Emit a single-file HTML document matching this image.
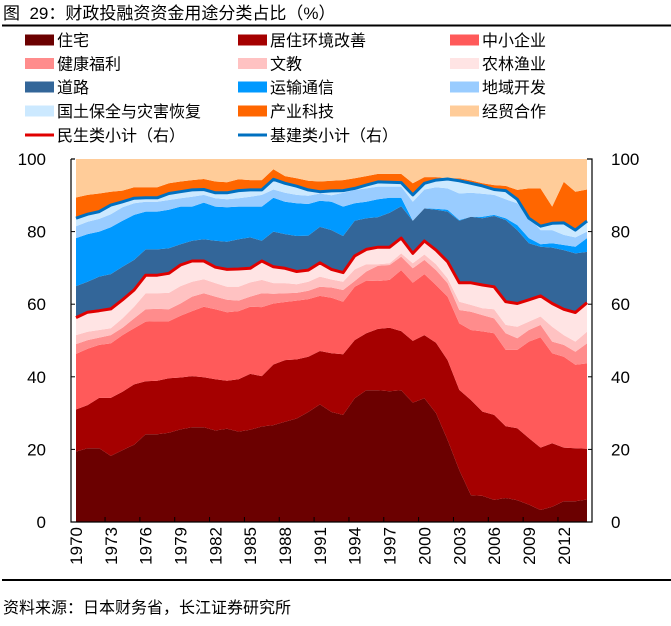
<!DOCTYPE html>
<html><head><meta charset="utf-8">
<style>
html,body{margin:0;padding:0;background:#fff;}
body{width:671px;height:621px;overflow:hidden;position:relative;font-family:"Liberation Sans","Noto Sans CJK SC",sans-serif;}
svg text{font-family:"Liberation Sans","Noto Sans CJK SC",sans-serif;}
</style></head>
<body>
<svg id="chart" width="671" height="621" viewBox="0 0 671 621" xmlns="http://www.w3.org/2000/svg">
<text x="3" y="19" font-size="17" fill="#000" xml:space="preserve">图  29：财政投融资资金用途分类占比（%）</text>
<rect x="2" y="24.5" width="669" height="2" fill="#000"/>
<g id="legend"></g>
<g id="plot"></g>
<g id="axes"></g>
<rect x="2" y="579" width="669" height="2" fill="#000"/>
<text x="3" y="613" font-size="16" fill="#000">资料来源：日本财务省，长江证券研究所</text>
</svg>
<script>
// Categories
const years = [];
for (let y = 1970; y <= 2014; y++) years.push(y);
const tickYears = [1970,1973,1976,1979,1982,1985,1988,1991,1994,1997,2000,2003,2006,2009,2012];
const yTicks = [0,20,40,60,80,100];
const seriesNames = ["住宅","居住环境改善","中小企业","健康福利","文教","农林渔业","道路","运输通信","地域开发","国土保全与灾害恢复","产业科技","经贸合作"];
// Cumulative stack tops (%), bottom to top
const housingTop = [19.4,20.3,20.3,18.2,19.8,21.3,24.2,24.2,24.6,25.5,26.1,26.1,25.2,25.7,24.9,25.4,26.3,26.7,27.6,28.5,30.3,32.4,30.3,29.5,34.1,36.3,36.3,36.0,36.3,32.9,34.1,30.0,22.6,14.3,7.4,7.2,6.1,6.6,6.0,4.8,3.3,4.2,5.7,5.7,6.2];
const livingEnvTop = [31.0,32.2,34.2,34.2,35.9,37.9,38.8,38.9,39.6,39.8,40.2,39.9,39.3,38.9,39.3,40.8,40.2,43.4,44.6,44.8,45.5,47.1,46.5,46.2,50.1,52.0,53.2,53.5,52.6,49.9,51.5,49.4,44.6,36.4,33.6,30.4,29.5,26.4,25.8,23.1,20.5,21.7,20.5,20.3,20.2];
const smeTop = [46.3,47.7,48.8,49.2,51.5,53.4,55.2,55.3,55.3,56.8,58.1,59.3,58.6,57.8,58.1,59.3,59.2,60.2,60.6,61.0,61.4,62.3,61.8,60.7,64.8,66.5,66.4,66.7,69.4,65.9,68.3,65.3,62.1,54.7,52.9,52.5,52.0,47.4,47.4,49.7,50.9,46.5,45.5,43.3,43.7];
const welfareTop = [49.0,50.1,50.8,51.5,53.5,56.1,58.6,58.7,58.6,60.2,62.1,63.0,62.1,61.2,61.0,62.1,63.0,62.9,63.0,63.1,63.7,64.8,64.6,63.9,66.4,69.0,70.6,70.8,73.1,69.9,72.2,69.4,65.8,58.4,57.9,57.0,56.1,52.0,50.6,52.9,54.3,49.7,48.8,46.9,49.2];
const educationTop = [51.5,52.4,52.9,53.4,56.1,59.3,63.0,63.0,63.1,65.0,66.2,66.9,65.8,64.8,64.8,66.0,66.7,65.8,65.8,65.5,66.2,67.6,66.8,66.2,69.6,71.0,71.0,71.3,74.0,71.3,73.7,71.0,67.1,60.7,59.8,58.9,58.6,54.3,53.8,55.2,56.6,53.8,51.5,49.7,52.4];
const agricultureTop = [56.3,57.8,58.2,58.7,61.2,63.9,68.0,68.0,68.5,70.8,71.9,71.9,70.2,69.6,69.7,69.9,71.9,70.3,69.9,69.0,69.4,71.4,69.6,68.7,73.3,75.1,75.7,75.7,78.2,74.0,77.4,74.9,71.7,65.9,65.9,65.3,64.8,60.7,60.2,61.2,62.3,60.2,58.6,57.7,60.4];
const roadTop = [65.0,66.2,67.6,68.3,70.3,72.2,75.1,75.1,75.4,76.5,77.5,77.9,77.5,77.2,77.9,78.4,77.5,80.0,79.3,78.8,78.9,81.3,80.4,78.8,83.0,83.7,84.0,85.2,87.0,83.0,86.4,86.0,85.5,83.0,84.1,83.7,84.3,83.2,80.4,76.8,75.8,75.6,74.9,74.0,74.4];
const transportTop = [78.2,79.3,80.0,81.2,83.0,84.6,85.5,85.5,86.0,86.9,86.9,88.0,86.9,86.7,86.9,86.9,86.9,89.3,88.2,87.8,87.6,88.5,88.2,86.9,87.8,88.2,88.9,89.3,89.3,83.0,86.4,86.3,86.0,83.2,84.1,84.1,84.6,83.7,81.8,78.2,76.5,76.8,76.3,75.8,78.2];
const regionalTop = [81.5,82.7,83.5,84.8,86.7,87.8,88.2,88.2,88.7,89.2,89.6,90.1,89.2,88.9,89.2,89.6,90.1,91.6,90.7,90.1,89.9,90.5,90.0,90.7,91.5,91.9,92.4,92.4,92.4,88.2,91.6,92.2,91.9,90.5,90.7,90.4,90.1,88.9,87.8,84.1,80.4,80.4,79.1,78.4,80.0];
const landTop = [83.7,84.8,85.5,87.3,88.2,89.2,89.3,89.3,90.5,91.0,91.5,91.6,90.7,90.7,91.3,91.5,91.5,94.4,93.3,92.5,91.5,91.0,91.2,91.3,91.9,92.8,93.7,93.6,93.5,90.1,93.3,94.2,94.5,94.0,93.3,92.6,91.6,91.3,88.9,83.7,81.5,82.3,82.4,80.4,82.9];
const industryTop = [89.4,90.1,90.5,91.0,91.3,92.2,92.2,92.2,93.3,93.8,94.2,94.5,93.8,93.6,94.4,94.2,94.2,97.2,95.3,94.7,94.0,93.8,94.0,94.2,94.7,95.3,95.9,95.9,95.9,93.3,95.0,95.0,94.7,94.7,94.1,93.3,92.8,92.6,91.5,91.9,91.9,86.9,93.7,91.0,91.6];
const tradeTop = years.map(() => 100);

const NS = "http://www.w3.org/2000/svg";
const X0 = 76, X1 = 587, Y0 = 522, Y100 = 159;
const xScale = i => X0 + (X1 - X0) * i / (years.length - 1);
const yScale = v => Y0 - (Y0 - Y100) * v / 100;

const layers = [
  {name:"住宅", key:"housing", top:housingTop, color:"#6b0000"},
  {name:"居住环境改善", key:"living-env", top:livingEnvTop, color:"#a50000"},
  {name:"中小企业", key:"sme", top:smeTop, color:"#ff5a5a"},
  {name:"健康福利", key:"welfare", top:welfareTop, color:"#ff8c8c"},
  {name:"文教", key:"education", top:educationTop, color:"#ffc2c2"},
  {name:"农林渔业", key:"agriculture", top:agricultureTop, color:"#ffe4e4"},
  {name:"道路", key:"road", top:roadTop, color:"#336699"},
  {name:"运输通信", key:"transport", top:transportTop, color:"#0099ff"},
  {name:"地域开发", key:"regional", top:regionalTop, color:"#99ccff"},
  {name:"国土保全与灾害恢复", key:"land", top:landTop, color:"#cce9ff"},
  {name:"产业科技", key:"industry", top:industryTop, color:"#ff6600"},
  {name:"经贸合作", key:"trade", top:tradeTop, color:"#ffcc99"}
];

const plot = document.getElementById('plot');
const zeros = years.map(() => 0);
layers.forEach((L, li) => {
  const bottom = li === 0 ? zeros : layers[li-1].top;
  let d = "";
  L.top.forEach((v, i) => { d += (i ? "L" : "M") + xScale(i).toFixed(1) + "," + yScale(v).toFixed(1); });
  for (let i = bottom.length - 1; i >= 0; i--) d += "L" + xScale(i).toFixed(1) + "," + yScale(bottom[i]).toFixed(1);
  d += "Z";
  const p = document.createElementNS(NS, "path");
  p.setAttribute('d', d);
  p.setAttribute('fill', L.color);
  
  
  plot.appendChild(p);
});

function line(arr, color, name) {
  let d = "";
  arr.forEach((v, i) => { d += (i ? "L" : "M") + xScale(i).toFixed(1) + "," + yScale(v).toFixed(1); });
  const p = document.createElementNS(NS, "path");
  p.setAttribute('d', d);
  p.setAttribute('fill', 'none');
  p.setAttribute('stroke', color);
  p.setAttribute('stroke-width', '3');
  p.setAttribute('stroke-linejoin', 'round');
  
  
  plot.appendChild(p);
}
line(agricultureTop, "#e00000", "livelihood-subtotal-line");
line(landTop, "#0070c0", "infrastructure-subtotal-line");

// Axes
const axes = document.getElementById('axes');
function el(tag, attrs) {
  const e = document.createElementNS(NS, tag);
  for (const k in attrs) e.setAttribute(k, attrs[k]);
  return e;
}
const la = el('path', {d:`M71,${Y100}H75M71,${Y100}V${Y0}H592V${Y100}H587`, fill:'none', stroke:'#000', 'stroke-width':'1.2'});


axes.appendChild(la);
yTicks.forEach(v => {
  const y = yScale(v);
  const t1 = el('line', {x1:71, x2:75, y1:y, y2:y, stroke:'#000', 'stroke-width':1});
  
  
  axes.appendChild(t1);
  const t2 = el('line', {x1:588, x2:592, y1:y, y2:y, stroke:'#000', 'stroke-width':1});
  
  
  axes.appendChild(t2);
  const lt = el('text', {x:46, y:y+6, 'text-anchor':'end', 'font-size':17, fill:'#000'});
  lt.textContent = v;
  
  
  axes.appendChild(lt);
  const rt = el('text', {x:611, y:y+6, 'text-anchor':'start', 'font-size':17, fill:'#000'});
  rt.textContent = v;
  
  
  axes.appendChild(rt);
});
tickYears.forEach(yr => {
  const i = years.indexOf(yr);
  const x = xScale(i);
  if (i > 0) {
    const tk = el('line', {x1:x-5.8, x2:x-5.8, y1:Y0-5, y2:Y0, stroke:'#000', 'stroke-width':1});
    
    
    axes.appendChild(tk);
  }
  const t = el('text', {x:0, y:0, 'text-anchor':'end', 'font-size':17, fill:'#000', transform:`translate(${x+6},${527}) rotate(-90)`});
  t.textContent = yr;
  
  
  axes.appendChild(t);
});

// Legend
const legend = document.getElementById('legend');
const colX = [25, 238, 450];
const rowY = [40, 63.5, 87, 111, 135];
layers.forEach((L, k) => {
  const r = Math.floor(k / 3), c = k % 3;
  const sw = el('rect', {x:colX[c], y:rowY[r]-5.5, width:29, height:11, fill:L.color});
  
  
  legend.appendChild(sw);
  const t = el('text', {x:colX[c]+32, y:rowY[r]+6, 'font-size':16, fill:'#000'});
  t.textContent = L.name;
  
  
  legend.appendChild(t);
});
[["民生类小计（右）","#e00000",0,"livelihood"],["基建类小计（右）","#0070c0",1,"infrastructure"]].forEach(([txt,col,c,key]) => {
  const ln = el('rect', {x:colX[c], y:rowY[4]-1.5, width:29, height:3, fill:col});
  
  
  legend.appendChild(ln);
  const t = el('text', {x:colX[c]+32, y:rowY[4]+6, 'font-size':16, fill:'#000'});
  t.textContent = txt;
  
  
  legend.appendChild(t);
});
</script>
</body></html>
